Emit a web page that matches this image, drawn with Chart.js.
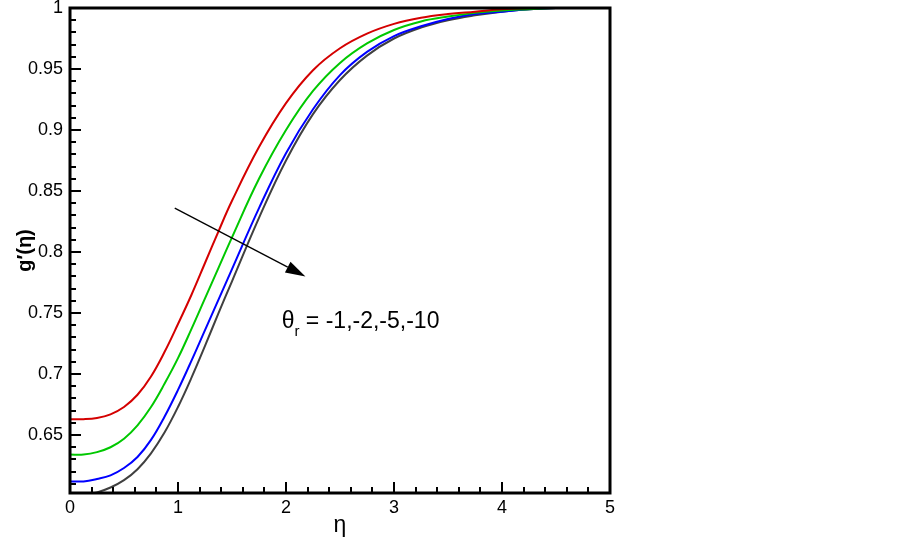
<!DOCTYPE html>
<html>
<head>
<meta charset="utf-8">
<script src="https://cdn.jsdelivr.net/npm/chart.js@4"></script>
<style>
html,body{margin:0;padding:0;background:#fff;}
#wrap{width:903px;height:539px;position:relative;}
</style>
</head>
<body>
<div id="wrap"><canvas id="c" width="903" height="539"></canvas></div>
<script>
const eta = [0,0.125,0.25,0.375,0.5,0.625,0.75,0.875,1,1.125,1.25,1.375,1.5,1.75,2,2.25,2.5,2.75,3,3.25,3.5,3.75,4,4.25,4.5,4.75,5];
const gRed   = [0.663,0.663,0.664,0.667,0.673,0.683,0.698,0.718,0.741,0.765,0.791,0.817,0.842,0.886,0.922,0.949,0.967,0.979,0.987,0.992,0.995,0.997,0.999,1.000,1.000,1.000,1.000];
const gGreen = [0.634,0.634,0.636,0.640,0.647,0.658,0.673,0.692,0.713,0.737,0.762,0.787,0.812,0.860,0.900,0.932,0.955,0.971,0.982,0.989,0.993,0.996,0.998,0.999,1.000,1.000,1.000];
const gBlue  = [0.612,0.612,0.614,0.617,0.623,0.632,0.646,0.665,0.687,0.711,0.736,0.761,0.786,0.836,0.881,0.917,0.945,0.964,0.977,0.985,0.991,0.995,0.997,0.999,1.000,1.000,1.000];
const gBlack = [0.601,0.601,0.603,0.607,0.613,0.622,0.635,0.652,0.673,0.697,0.723,0.750,0.776,0.828,0.875,0.913,0.941,0.961,0.975,0.984,0.990,0.994,0.997,0.999,1.000,1.000,1.000];
const seriesNames = ['θr = -1','θr = -2','θr = -5','θr = -10'];
const xTicks = [0,1,2,3,4,5];
const yTicks = [0.65,0.7,0.75,0.8,0.85,0.9,0.95,1];
const annotationText = ['θ','r',' = -1,-2,-5,-10'];
const arrowFrom = {x:0.97, y:0.836};
const arrowTo = {x:2.18, y:0.780};
const textAt = {x:1.96, y:0.738};

const toPts = arr => eta.map((e,i)=>({x:e,y:arr[i]}));
const colors = ['#d40000','#00c800','#0000ff','#404040'];
const dataSets = [gRed,gGreen,gBlue,gBlack].map((arr,i)=>({
  label: seriesNames[i], data: toPts(arr), borderColor: colors[i], borderWidth: 2,
  pointRadius: 0, fill:false, tension:0.4
}));

const FONT = "'Liberation Sans', Arial, sans-serif";

const framePlugin = {
  id:'frame',
  afterDatasetsDraw(chart){
    const {ctx, chartArea:a, scales:{x, y}} = chart;
    ctx.save();
    ctx.strokeStyle = '#000';
    ctx.lineWidth = 2;
    ctx.beginPath();
    for (let k=0; k<=25; k++){
      const v = k/5;
      const px = Math.round(x.getPixelForValue(v));
      const major = k%5===0;
      ctx.moveTo(px, a.bottom); ctx.lineTo(px, a.bottom-(major?11:6));
    }
    for (let k=61; k<=100; k++){
      const v = k/100;
      if (v < y.min) continue;
      const py = Math.round(y.getPixelForValue(v));
      const major = k%5===0;
      ctx.moveTo(a.left, py); ctx.lineTo(a.left+(major?11:6), py);
    }
    ctx.stroke();
    ctx.lineWidth = 3;
    ctx.strokeRect(a.left, a.top, a.right-a.left, a.bottom-a.top);
    const x0 = x.getPixelForValue(arrowFrom.x), y0 = y.getPixelForValue(arrowFrom.y);
    const x1 = x.getPixelForValue(arrowTo.x), y1 = y.getPixelForValue(arrowTo.y);
    const ang = Math.atan2(y1-y0, x1-x0);
    const L = 20, W = 6;
    const bx = x1 - L*Math.cos(ang), by = y1 - L*Math.sin(ang);
    ctx.lineWidth = 1.3;
    ctx.beginPath(); ctx.moveTo(x0,y0); ctx.lineTo(bx,by); ctx.stroke();
    ctx.fillStyle = '#000';
    ctx.beginPath();
    ctx.moveTo(x1,y1);
    ctx.lineTo(bx + W*Math.sin(ang), by - W*Math.cos(ang));
    ctx.lineTo(bx - W*Math.sin(ang), by + W*Math.cos(ang));
    ctx.closePath(); ctx.fill();
    const tx = x.getPixelForValue(textAt.x), ty = y.getPixelForValue(textAt.y);
    ctx.textBaseline = 'alphabetic';
    ctx.textAlign = 'left';
    ctx.font = '23px ' + FONT;
    ctx.fillText(annotationText[0], tx, ty);
    let w = ctx.measureText(annotationText[0]).width;
    ctx.font = '15px ' + FONT;
    ctx.fillText(annotationText[1], tx+w, ty+8);
    w += ctx.measureText(annotationText[1]).width;
    ctx.font = '23px ' + FONT;
    ctx.fillText(annotationText[2], tx+w, ty);
    ctx.restore();
  }
};

new Chart(document.getElementById('c'), {
  type:'line',
  data:{datasets:dataSets},
  options:{
    responsive:false, animation:false,
    layout:{padding:{left:0,right:293,top:8,bottom:0}},
    plugins:{legend:{display:false}, tooltip:{enabled:false}},
    scales:{
      x:{type:'linear', min:0, max:5,
        grid:{display:false, drawTicks:false}, border:{display:false},
        afterBuildTicks(s){ s.ticks = xTicks.map(v=>({value:v})); },
        ticks:{color:'#000', font:{family:FONT, size:18}, padding:4, maxRotation:0},
        title:{display:true, text:'η', color:'#000', font:{family:FONT, size:23}, padding:{top:0,bottom:0}},
        afterFit(s){ s.height = 46; s.paddingLeft = 0; s.paddingRight = 0; }
      },
      y:{type:'linear', min:0.6025, max:1,
        grid:{display:false, drawTicks:false}, border:{display:false},
        afterBuildTicks(s){ s.ticks = yTicks.map(v=>({value:v})); },
        ticks:{color:'#000', font:{family:FONT, size:18}, padding:7,
          callback:v=>String(+v.toFixed(2))},
        title:{display:true, text:"g′(η)", color:'#000', font:{family:FONT, size:20, weight:'bold'}, padding:{top:13,bottom:0}},
        afterFit(s){ s.width = 70; s.paddingTop = 0; s.paddingBottom = 0; }
      }
    }
  },
  plugins:[framePlugin]
});
</script>
</body>
</html>
